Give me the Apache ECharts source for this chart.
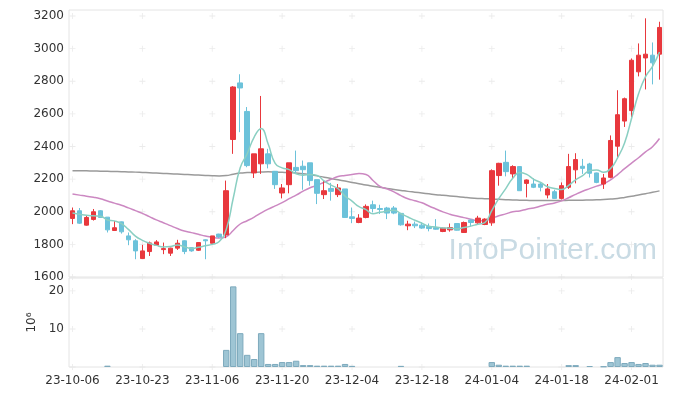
<!DOCTYPE html>
<html><head><meta charset="utf-8">
<script src="https://cdn.jsdelivr.net/npm/echarts@6/dist/echarts.min.js"></script>
<style>html,body{margin:0;padding:0;background:#fff}#c{width:673px;height:396px}</style>
</head><body><div id="c"></div>
<script>
const dates = ['23-10-06','23-10-10','23-10-11','23-10-12','23-10-13','23-10-16','23-10-17','23-10-18','23-10-19','23-10-20',
'23-10-23','23-10-24','23-10-25','23-10-26','23-10-27','23-10-30','23-10-31','23-11-01','23-11-02','23-11-03',
'23-11-06','23-11-07','23-11-08','23-11-09','23-11-10','23-11-13','23-11-14','23-11-15','23-11-16','23-11-17',
'23-11-20','23-11-21','23-11-22','23-11-23','23-11-24','23-11-27','23-11-28','23-11-29','23-11-30','23-12-01',
'23-12-04','23-12-05','23-12-06','23-12-07','23-12-08','23-12-11','23-12-12','23-12-13','23-12-14','23-12-15',
'23-12-18','23-12-19','23-12-20','23-12-21','23-12-22','23-12-26','23-12-27','23-12-28','24-01-02','24-01-03',
'24-01-04','24-01-05','24-01-08','24-01-09','24-01-10','24-01-11','24-01-12','24-01-15','24-01-16','24-01-17',
'24-01-18','24-01-19','24-01-22','24-01-23','24-01-24','24-01-25','24-01-26','24-01-29','24-01-30','24-01-31',
'24-02-01','24-02-02','24-02-05','24-02-06','24-02-07'];
const opens  = [1959,2006,1918,1953,2006,1967,1885,1938,1852,1822, 1713,1756,1795,1768,1746,1777,1822,1780,1764,1828,
1807,1863,1858,2443,2790,2615,2238,2294,2355,2248, 2115,2166,2272,2279,2300,2197,2105,2143,2105,2140,
1969,1934,1965,2043,2020,2023,2023,1990,1914,1924, 1918,1910,1903,1879,1889,1928,1873,1949,1932,1922,
1932,2222,2303,2232,2277,2174,2170,2170,2103,2123, 2082,2150,2257,2279,2293,2238,2170,2211,2402,2556,
2620,2858,2943,2960,2966];
const closes = [2006,1930,1965,2000,1965,1889,1902,1877,1828,1760, 1760,1809,1815,1774,1777,1807,1756,1760,1811,1822,
1852,1846,2129,2765,2759,2283,2355,2386,2294,2166, 2146,2300,2252,2258,2191,2113,2129,2125,2146,1965,
1959,1961,2033,2020,2014,1992,1992,1920,1924,1914, 1900,1897,1893,1900,1903,1887,1934,1934,1961,1955,
2252,2297,2246,2277,2129,2195,2150,2150,2140,2082, 2160,2277,2320,2266,2236,2180,2207,2437,2595,2693,
2929,2960,2966,2913,3130];
const lows   = [1924,1925,1915,1946,1962,1873,1882,1866,1795,1709, 1710,1729,1790,1740,1729,1766,1740,1755,1760,1709,
1805,1838,1838,2355,2488,2273,2207,2232,2266,2140, 2082,2113,2232,2135,2160,2047,2078,2068,2090,1963,
1930,1930,1960,1996,1986,1955,1985,1915,1887,1900, 1895,1880,1890,1875,1878,1885,1870,1910,1920,1918,
1914,2160,2217,2201,2129,2088,2145,2125,2082,2080, 2075,2140,2174,2232,2210,2175,2140,2205,2330,2520,
2580,2830,2750,2781,2810];
const highs  = [2026,2023,1980,2017,2010,1967,1943,1940,1873,1832, 1797,1817,1826,1811,1780,1828,1825,1782,1813,1830,
1852,1865,2191,2770,2843,2642,2355,2710,2386,2250, 2170,2300,2375,2314,2300,2197,2191,2177,2170,2140,
2026,1985,2045,2068,2043,2030,2035,1992,1945,1940, 1935,1928,1955,1902,1928,1930,1940,1955,1975,1960,
2260,2300,2375,2285,2280,2198,2205,2180,2170,2135, 2180,2355,2359,2324,2300,2240,2232,2468,2745,2700,
2940,3032,3186,3038,3165];
const volumes = [null,null,null,null,null,0.35,null,null,null,null, null,null,null,null,null,null,null,null,null,null,
null,null,4.5,21.2,8.9,3.2,2.1,8.9,0.8,0.8, 1.3,1.3,1.65,0.5,0.5,0.35,0.35,0.35,0.35,0.8,
0.3,null,null,null,null,null,null,0.3,null,null, null,null,null,null,null,null,null,null,null,null,
1.3,0.6,0.35,0.35,0.35,0.35,null,null,null,null, null,0.5,0.5,null,0.25,null,0.15,1.3,2.6,1.05,
1.3,0.8,1.05,0.6,0.6];
const ma5 = [1992,1985,1978,1975,1973,1950,1944,1927,1892,1851, 1825,1807,1794,1784,1787,1796,1786,1775,1782,1791,
1800,1818,1892,2083,2270,2356,2458,2510,2415,2297, 2269,2258,2232,2224,2229,2223,2189,2163,2141,2096,
2065,2031,2013,1988,1997,2004,2010,1988,1968,1948, 1930,1911,1906,1901,1899,1896,1903,1912,1924,1934,
2007,2080,2142,2205,2240,2229,2199,2180,2153,2143, 2136,2162,2196,2221,2252,2256,2242,2265,2331,2422,
2572,2723,2829,2892,2980];
const ma20 = [2109,2102,2095,2089,2080,2066,2053,2040,2024,2007, 1990,1970,1950,1933,1915,1897,1882,1872,1862,1851,
1843,1839,1847,1885,1925,1945,1967,1993,2016,2036, 2056,2080,2102,2126,2147,2162,2181,2199,2216,2223,
2228,2234,2229,2192,2155,2140,2122,2099,2080,2068, 2055,2035,2017,1999,1985,1974,1964,1954,1945,1945,
1959,1976,1987,2000,2005,2016,2023,2035,2046,2054, 2067,2086,2107,2126,2142,2157,2171,2196,2228,2264,
2298,2331,2367,2399,2449];
const maLong = [2252,2252,2251,2250,2249,2248,2247,2246,2244,2243, 2241,2239,2237,2235,2233,2231,2229,2227,2225,2223,
2221,2220,2222,2230,2237,2240,2242,2244,2245,2244, 2242,2240,2237,2233,2227,2220,2212,2204,2196,2188,
2180,2172,2164,2157,2150,2143,2137,2131,2125,2120, 2115,2110,2105,2101,2097,2093,2089,2085,2082,2080,
2078,2076,2074,2072,2071,2070,2069,2069,2069,2069, 2069,2070,2070,2071,2072,2073,2075,2078,2082,2088,
2095,2103,2111,2119,2128];
const priceTicks = [1600,1800,2000,2200,2400,2600,2800,3000,3200];
const volTicks = [0,10,20];
const labelIdx = [0,10,20,30,40,50,60,70,80];

const candles = dates.map((d,i)=>[opens[i],closes[i],lows[i],highs[i]]);
const crossP = [], crossV = [];
labelIdx.forEach(i=>{ priceTicks.forEach(v=>crossP.push([dates[i],v])); volTicks.forEach(v=>crossV.push([dates[i],v])); });
const plus = 'path://M4.3,0H5.7V4.3H10V5.7H5.7V10H4.3V5.7H0V4.3H4.3Z';
const FONT = 'DejaVu Sans';
const chart = echarts.init(document.getElementById('c'));
chart.setOption({
  animation:false,
  backgroundColor:'#fff',
  textStyle:{fontFamily:FONT},
  graphic:[{type:'text',right:16,top:236,z:0,silent:true,
    style:{text:'InfoPointer.com',font:'30px "Liberation Sans"',fill:'#c9dbe4'}}],
  grid:[
    {left:69,right:10,top:10,height:267,show:true,borderColor:'#e4e4e4',borderWidth:1},
    {left:69,right:10,top:278,height:89,show:true,borderColor:'#e4e4e4',borderWidth:1}
  ],
  xAxis:[
    {type:'category',gridIndex:0,data:dates,boundaryGap:true,axisLine:{show:false},axisTick:{show:false},axisLabel:{show:false},splitLine:{show:false}},
    {type:'category',gridIndex:1,data:dates,boundaryGap:true,axisLine:{show:false},axisTick:{show:false},
     axisLabel:{interval:9,color:'#333',fontSize:12,margin:8,fontFamily:FONT},splitLine:{show:false}}
  ],
  yAxis:[
    {type:'value',gridIndex:0,min:1600,max:3237,interval:200,axisLine:{show:false},axisTick:{show:false},splitLine:{show:false},
     axisLabel:{color:'#333',fontSize:12,margin:5,showMaxLabel:false,fontFamily:FONT,formatter:v=>String(v)}},
    {type:'value',gridIndex:1,min:0,max:23.4,interval:10,axisLine:{show:false},axisTick:{show:false},splitLine:{show:false},
     axisLabel:{color:'#333',fontSize:12,margin:5,showMinLabel:false,showMaxLabel:false,fontFamily:FONT,formatter:v=>String(v)},
     name:'10⁶',nameLocation:'middle',nameRotate:90,nameGap:31,nameTextStyle:{color:'#333',fontSize:12,fontFamily:FONT}}
  ],
  series:[
    {type:'scatter',xAxisIndex:0,yAxisIndex:0,data:crossP,symbol:plus,symbolSize:6,silent:true,z:1,itemStyle:{color:'#e6e6e6'}},
    {type:'scatter',xAxisIndex:1,yAxisIndex:1,data:crossV,symbol:plus,symbolSize:6,silent:true,z:1,itemStyle:{color:'#e6e6e6'}},
    {type:'line',xAxisIndex:0,yAxisIndex:0,data:maLong,symbol:'none',smooth:true,z:3,lineStyle:{color:'#9a9a9a',width:1.5}},
    {type:'line',xAxisIndex:0,yAxisIndex:0,data:ma20,symbol:'none',smooth:true,z:3,lineStyle:{color:'#cc88c2',width:1.5}},
    {type:'candlestick',xAxisIndex:0,yAxisIndex:0,data:candles,barWidth:5,z:4,
     itemStyle:{color:'#e8383d',color0:'#6cc2da',borderColor:'#e8383d',borderColor0:'#6cc2da',borderWidth:1}},
    {type:'line',xAxisIndex:0,yAxisIndex:0,data:ma5,symbol:'none',smooth:true,z:5,lineStyle:{color:'#8acfc2',width:1.5}},
    {type:'bar',xAxisIndex:1,yAxisIndex:1,data:volumes,barCategoryGap:'8%',z:3,
     itemStyle:{color:'#9ec5d4',borderColor:'#7eaabd',borderWidth:1}}
  ]
});
</script></body></html>
